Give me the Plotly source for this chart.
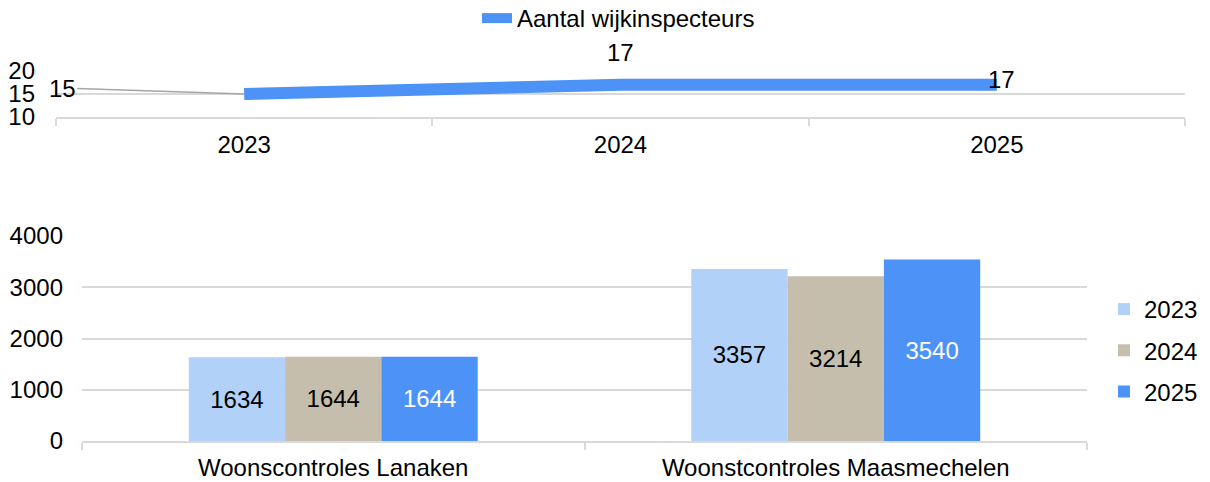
import plotly.graph_objects as go

# ---- data ----
years = ["2023", "2024", "2025"]
inspecteurs = [15, 17, 17]
line_name = "Aantal wijkinspecteurs"

categories = ["Woonscontroles Lanaken", "Woonstcontroles Maasmechelen"]
bar_2023 = [1634, 3357]
bar_2024 = [1644, 3214]
bar_2025 = [1644, 3540]
bar_series = {"2023": bar_2023, "2024": bar_2024, "2025": bar_2025}

top_yticks = [10, 15, 20]
bot_yticks = [0, 1000, 2000, 3000, 4000]

# ---- style ----
W, H = 1210, 482
FONT = "Liberation Sans, Arial, sans-serif"
FS = 24
GRID = "#d9d9d9"
BLUE = "#4d93f7"
bar_colors = {"2023": "#b2d1f8", "2024": "#c5beac", "2025": "#4d93f7"}
bar_text_colors = {"2023": "#000000", "2024": "#000000", "2025": "#ffffff"}

def px_x(p):
    return p / W

def px_y(p):
    return 1 - p / H

fig = go.Figure()

fig.add_trace(go.Scatter(
    x=years, y=inspecteurs, mode="lines", name=line_name,
    line=dict(color=BLUE, width=12),
    xaxis="x", yaxis="y", legend="legend", showlegend=True,
))

for yr, vals in bar_series.items():
    fig.add_trace(go.Bar(
        x=categories, y=vals, name=yr,
        marker=dict(color=bar_colors[yr], line=dict(width=0)),
        text=[str(v) for v in vals], textposition="inside",
        insidetextanchor="middle",
        textfont=dict(color=bar_text_colors[yr], size=FS, family=FONT),
        xaxis="x2", yaxis="y2", legend="legend2", legendgroup=yr, showlegend=True,
    ))

# data labels for the line
annotations = [
    dict(x=0, y=inspecteurs[0], xref="x", yref="y", text=str(inspecteurs[0]),
         showarrow=True, arrowhead=0, arrowwidth=1.5, arrowcolor="#a6a6a6",
         axref="pixel", ayref="pixel", ax=-182, ay=-6, standoff=0,
         font=dict(size=FS, color="#000000", family=FONT)),
    dict(x=1, y=inspecteurs[1], xref="x", yref="y", text=str(inspecteurs[1]),
         showarrow=False, yshift=32, font=dict(size=FS, color="#000000", family=FONT)),
    dict(x=2, y=inspecteurs[2], xref="x", yref="y", text=str(inspecteurs[2]),
         showarrow=False, xshift=5, yshift=5, font=dict(size=FS, color="#000000", family=FONT)),
]

fig.update_layout(
    width=W, height=H,
    margin=dict(l=0, r=0, t=0, b=0, autoexpand=False),
    paper_bgcolor="white", plot_bgcolor="white",
    font=dict(family=FONT, size=FS, color="#000000"),
    barmode="group", bargap=0.425, bargroupgap=0,
    annotations=annotations,
    showlegend=True,
    xaxis=dict(
        domain=[px_x(56), px_x(1185)], anchor="y", type="category",
        range=[-0.5, 2.5], showgrid=False, showline=True, linecolor=GRID, linewidth=1.5,
        ticks="outside", tickson="boundaries", ticklen=7, tickcolor=GRID, tickwidth=1.5,
        ticklabelstandoff=5, tickfont=dict(size=FS), automargin=False,
    ),
    yaxis=dict(
        domain=[px_y(117), px_y(71)], anchor="x", range=[10, 20],
        tickvals=top_yticks, showgrid=True, gridcolor=GRID, gridwidth=1.5,
        zeroline=False, showline=False, ticks="", ticklabelstandoff=20,
        tickfont=dict(size=FS), automargin=False,
    ),
    xaxis2=dict(
        domain=[px_x(82), px_x(1087)], anchor="y2", type="category",
        range=[-0.5, 1.5], showgrid=False, showline=True, linecolor=GRID, linewidth=1.5,
        ticks="outside", tickson="boundaries", ticklen=7, tickcolor=GRID, tickwidth=1.5,
        ticklabelstandoff=4, tickfont=dict(size=FS), automargin=False,
    ),
    yaxis2=dict(
        domain=[px_y(441), px_y(236)], anchor="x2", range=[0, 4000],
        tickvals=bot_yticks, showgrid=True, gridcolor=GRID, gridwidth=1.5,
        zeroline=False, showline=False, ticks="", ticklabelstandoff=18,
        tickfont=dict(size=FS), automargin=False,
    ),
    legend=dict(
        visible=True,
        x=px_x(477), y=1 + 4 / H, xanchor="left", yanchor="top",
        orientation="h", font=dict(size=FS), bgcolor="rgba(0,0,0,0)",
    ),
    legend2=dict(
        visible=True,
        x=px_x(1104), y=px_y(287), xanchor="left", yanchor="top",
        orientation="v", font=dict(size=FS), bgcolor="rgba(0,0,0,0)",
        tracegroupgap=7, traceorder="grouped",
    ),
)

fig.write_html(
    "out.html",
    config={"displayModeBar": False},
    post_script="document.body.style.margin='0';document.body.style.padding='0';",
)
